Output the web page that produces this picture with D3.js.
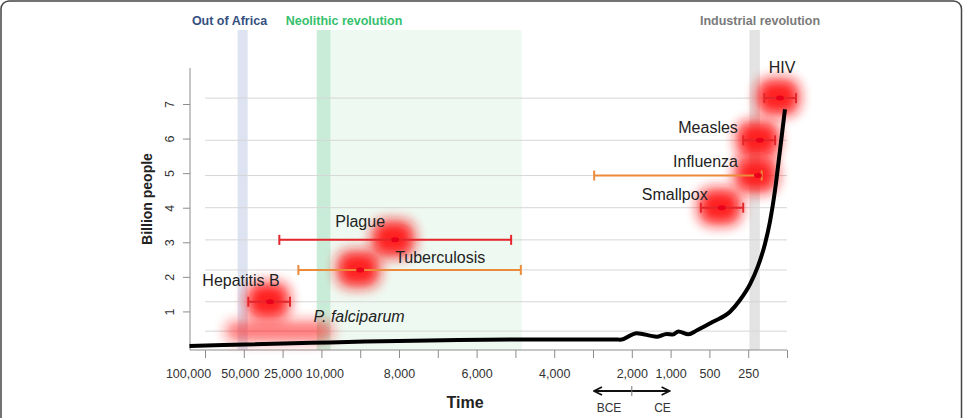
<!DOCTYPE html>
<html>
<head>
<meta charset="utf-8">
<script src="https://cdn.jsdelivr.net/npm/d3@7"></script>
<style>
  body { margin: 0; background: #fff; }
  svg { display: block; font-family: "Liberation Sans", Arial, sans-serif; }
  .axis path, .axis line { stroke: #8c8c8c; }
  .axis text { fill: #333; }
</style>
</head>
<body>
<svg id="chart" width="963" height="418"></svg>
<script>
// compressed time axis, years before present
const tickYears = [100000, 50000, 25000, 10000, 9000, 8000, 7000, 6000, 5000, 4000, 3000, 2000, 1000, 500, 250, 0];
const labeledYears = [100000, 50000, 25000, 10000, 8000, 6000, 4000, 2000, 1000, 500, 250];
const yTicks = [1, 2, 3, 4, 5, 6, 7];

// world population (billions) vs years before present
const popYears    = [120000, 4370, 2360, 2300, 1875, 1360, 1100, 970, 900, 770, 665, 477, 367, 303, 238, 187, 142, 110, 77, 45, 13];
const popBillions = [0.0, 0.19, 0.19, 0.18, 0.37, 0.27, 0.35, 0.33, 0.42, 0.34, 0.45, 0.70, 0.99, 1.33, 1.79, 2.31, 2.95, 3.59, 4.51, 5.67, 6.85];

// pathogens: estimated emergence (years ago) with interval
const diseases  = ["HIV", "Measles", "Influenza", "Smallpox", "Plague", "Tuberculosis", "Hepatitis B", "P. falciparum"];
const rowValue  = [7.17, 5.95, 4.93, 4.0, 3.07, 2.2, 1.28, 0.43];
const estimate  = [45, 175, 187, 421, 8100, 9000, 33100, null];
const olderEnd  = [146, 282, 2970, 610, 27100, 18900, 47100, 74000];
const recentEnd = [-58, 77, 163, 282, 5110, 4860, 22150, 9700];

// historical periods
const periods     = ["Out of Africa", "Neolithic revolution", "Neolithic revolution", "Industrial revolution"];
const periodStart = [58000, 11800, 9760, 242];
const periodEnd   = [47500, 9760, 4840, 175];

const svg = d3.select("#chart");

// figure frame
svg.append("rect")
    .attr("x", 1).attr("y", 1)
    .attr("width", 960.5).attr("height", 460)
    .attr("rx", 8)
    .attr("fill", "none")
    .attr("stroke", "#444")
    .attr("stroke-width", 1.5);

let x0 = 205, step = 38.8, left = 190, bottom = 350;

let x = d3.scaleLinear()
    .domain(tickYears)
    .range(tickYears.map(function(d, i) { return x0 + i * step; }));

let y = d3.scaleLinear().domain([0, 7]).range([346, 104]);

// shaded periods
let bandFill = ["#dde3f0", "#c9ecd8", "#eef9f1", "#e3e3e3"];
svg.append("g").selectAll("rect")
    .data(periods)
    .enter().append("rect")
    .attr("x", function(d, i) { return x(periodStart[i]); })
    .attr("width", function(d, i) { return x(periodEnd[i]) - x(periodStart[i]); })
    .attr("y", 30)
    .attr("height", bottom - 30)
    .attr("fill", function(d, i) { return bandFill[i]; });

let periodLabels = [
    {text: "Out of Africa", x: 229.5, color: "#35507f"},
    {text: "Neolithic revolution", x: 344, color: "#34c06c"},
    {text: "Industrial revolution", x: 760, color: "#7a7a7a"}
];
svg.append("g").selectAll("text")
    .data(periodLabels)
    .enter().append("text")
    .attr("x", function(d) { return d.x; })
    .attr("y", 25)
    .attr("text-anchor", "middle")
    .attr("font-weight", "bold")
    .attr("font-size", 12.5)
    .attr("fill", function(d) { return d.color; })
    .text(function(d) { return d.text; });

// row guide lines
svg.append("g").selectAll("line")
    .data(rowValue)
    .enter().append("line")
    .attr("x1", x(100000)).attr("x2", x(0))
    .attr("y1", function(d) { return y(d); })
    .attr("y2", function(d) { return y(d); })
    .attr("stroke", "#d6d6d6")
    .attr("stroke-width", 1);

// axes
let xAxis = d3.axisBottom(x)
    .tickValues(tickYears)
    .tickSizeInner(8).tickSizeOuter(0)
    .tickPadding(11)
    .tickFormat(function(d) { return labeledYears.indexOf(d) >= 0 ? d3.format(",")(d) : ""; });

let gx = svg.append("g")
    .attr("class", "axis")
    .attr("transform", "translate(0," + bottom + ")")
    .call(xAxis);
gx.select(".domain").remove();
gx.selectAll("text").attr("font-size", 12.5)
    .attr("dx", function(d) {
        if (d == 100000) return -17;
        if (d == 50000) return -4;
        if (d == 10000) return 3;
        return 0;
    });
gx.append("line")
    .attr("x1", left).attr("x2", x(0))
    .attr("stroke", "#8c8c8c");

let yAxis = d3.axisLeft(y).tickValues(yTicks).tickFormat(d3.format("d"))
    .tickSizeInner(7).tickSizeOuter(0);
let gy = svg.append("g")
    .attr("class", "axis")
    .attr("transform", "translate(" + left + ",0)")
    .call(yAxis);
gy.select(".domain").remove();
gy.selectAll("text")
    .attr("x", 0).attr("y", 0).attr("dy", 0)
    .attr("text-anchor", "middle")
    .attr("font-size", 12.5)
    .attr("transform", "translate(-16,0) rotate(-90)");
gy.append("line")
    .attr("y1", 68).attr("y2", bottom)
    .attr("stroke", "#8c8c8c");

svg.append("text")
    .attr("transform", "translate(152,199) rotate(-90)")
    .attr("text-anchor", "middle")
    .attr("font-weight", "bold")
    .attr("font-size", 14)
    .attr("fill", "#222")
    .text("Billion people");

svg.append("text")
    .attr("x", 465).attr("y", 408)
    .attr("text-anchor", "middle")
    .attr("font-weight", "bold")
    .attr("font-size", 16)
    .attr("fill", "#222")
    .text("Time");

// BCE / CE marker
let defs = svg.append("defs");
defs.append("marker")
    .attr("id", "head")
    .attr("viewBox", "0 0 10 10")
    .attr("refX", 9).attr("refY", 5)
    .attr("markerWidth", 5).attr("markerHeight", 5)
    .attr("orient", "auto-start-reverse")
    .append("path")
    .attr("d", "M1,1 L9,5 L1,9")
    .attr("fill", "none")
    .attr("stroke", "#111")
    .attr("stroke-width", 1.8);

svg.append("line")
    .attr("x1", x(3000) + 1).attr("x2", x(1000) - 1)
    .attr("y1", 391).attr("y2", 391)
    .attr("stroke", "#111").attr("stroke-width", 2)
    .attr("marker-start", "url(#head)")
    .attr("marker-end", "url(#head)");
svg.append("line")
    .attr("x1", x(2000)).attr("x2", x(2000))
    .attr("y1", 386).attr("y2", 396)
    .attr("stroke", "#777").attr("stroke-width", 1);
svg.append("text").attr("x", 609).attr("y", 411.5)
    .attr("text-anchor", "middle").attr("font-size", 12).attr("fill", "#333").text("BCE");
svg.append("text").attr("x", 662.5).attr("y", 411.5)
    .attr("text-anchor", "middle").attr("font-size", 12).attr("fill", "#333").text("CE");

// glow
let blur = defs.append("filter")
    .attr("id", "glow")
    .attr("x", "-80%").attr("y", "-80%")
    .attr("width", "260%").attr("height", "260%");
blur.append("feGaussianBlur").attr("stdDeviation", 6.5);

let glowW = 42, glowH = 36;
svg.append("g").selectAll("rect")
    .data(diseases)
    .enter().append("rect")
    .attr("filter", "url(#glow)")
    .attr("x", function(d, i) {
        return estimate[i] == null ? x(olderEnd[i]) : x(estimate[i]) - glowW / 2 - 2;
    })
    .attr("width", function(d, i) {
        return estimate[i] == null ? x(recentEnd[i]) - x(olderEnd[i]) : glowW;
    })
    .attr("y", function(d, i) { return y(rowValue[i]) - (estimate[i] == null ? 10 : glowH / 2 + 1); })
    .attr("height", function(d, i) { return estimate[i] == null ? 20 : glowH; })
    .attr("rx", 13)
    .attr("fill", "#ff1414")
    .attr("opacity", function(d, i) { return estimate[i] == null ? 0.6 : 0.95; });

// population curve
let line = d3.line()
    .x(function(d, i) { return x(popYears[i]); })
    .y(function(d) { return y(d); })
    .curve(d3.curveMonotoneX);

svg.append("path")
    .datum(popBillions)
    .attr("d", line)
    .attr("fill", "none")
    .attr("stroke", "#000")
    .attr("stroke-width", 4)
    .attr("stroke-linejoin", "round");

// interval bars
let barColor = {"Tuberculosis": "#ec8a3c", "Influenza": "#ec8a3c"};
let bars = svg.append("g").selectAll("g")
    .data(diseases.filter(function(d, i) { return estimate[i] != null; }))
    .enter().append("g")
    .attr("stroke", function(d) { return barColor[d] || "#e3262b"; })
    .attr("stroke-width", 2);

bars.append("line")
    .attr("x1", function(d) { return x(olderEnd[diseases.indexOf(d)]); })
    .attr("x2", function(d) { return x(recentEnd[diseases.indexOf(d)]); })
    .attr("y1", function(d) { return y(rowValue[diseases.indexOf(d)]); })
    .attr("y2", function(d) { return y(rowValue[diseases.indexOf(d)]); });

[olderEnd, recentEnd].forEach(function(ends) {
    bars.append("line")
        .attr("x1", function(d) { return x(ends[diseases.indexOf(d)]); })
        .attr("x2", function(d) { return x(ends[diseases.indexOf(d)]); })
        .attr("y1", function(d) { return y(rowValue[diseases.indexOf(d)]) - 5; })
        .attr("y2", function(d) { return y(rowValue[diseases.indexOf(d)]) + 5; });
});

bars.append("ellipse")
    .attr("cx", function(d) { return x(estimate[diseases.indexOf(d)]); })
    .attr("cy", function(d) { return y(rowValue[diseases.indexOf(d)]); })
    .attr("rx", 4).attr("ry", 2.5)
    .attr("stroke", "none")
    .attr("fill", "#e8001c");

// labels, offset from each estimate (or from the end of the range)
let labelOffset = {
    "HIV": [2, -25, "middle"],
    "Measles": [-22, -7, "end"],
    "Influenza": [-20, -9, "end"],
    "Smallpox": [-14, -8, "end"],
    "Plague": [-35, -13, "middle"],
    "Tuberculosis": [80, -7, "middle"],
    "Hepatitis B": [-29, -16, "middle"],
    "P. falciparum": [26, -9, "middle"]
};

svg.append("g").selectAll("text")
    .data(diseases)
    .enter().append("text")
    .attr("x", function(d, i) {
        let px = estimate[i] == null ? x(recentEnd[i]) : x(estimate[i]);
        return px + labelOffset[d][0];
    })
    .attr("y", function(d, i) { return y(rowValue[i]) + labelOffset[d][1]; })
    .attr("text-anchor", function(d) { return labelOffset[d][2]; })
    .attr("font-size", 16)
    .attr("font-style", function(d) { return d == "P. falciparum" ? "italic" : "normal"; })
    .attr("fill", "#222")
    .text(function(d) { return d; });
</script>
</body>
</html>
